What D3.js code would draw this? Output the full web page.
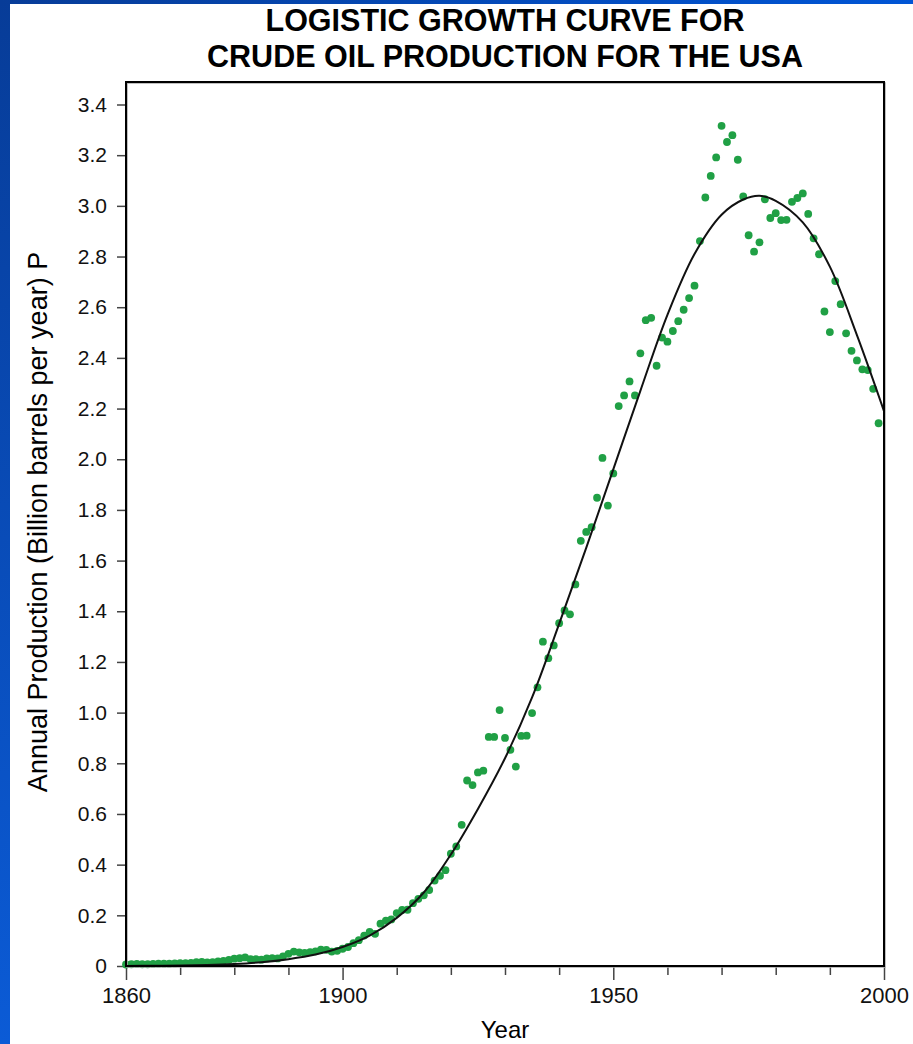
<!DOCTYPE html>
<html>
<head>
<meta charset="utf-8">
<script src="https://cdn.jsdelivr.net/npm/d3@7"></script>
<style>
  html, body { margin: 0; padding: 0; background: #fff; }
  svg { display: block; font-family: "Liberation Sans", Arial, sans-serif; }
</style>
</head>
<body>
<script>
// annual production, billion barrels
var years = d3.range(1860, 2000); // 1860..1999
var production = [
  .006, .007, .008, .007, .007, .008, .009, .009, .009, .010,
  .011, .011, .012, .015, .016, .014, .015, .018, .020, .024,
  .029, .031, .034, .027, .027, .025, .030, .031, .030, .038,
  .048, .057, .054, .052, .055, .058, .065, .064, .057, .060,
  .068, .075, .090, .102, .120, .135, .127, .167, .179, .184,
  .209, .221, .222, .248, .265, .279, .300, .337, .356, .378,
  .443, .472, .557, .732, .714, .764, .771, .904, .904, 1.010,
  .900, .853, .787, .908, .909, .998, 1.10, 1.28, 1.215, 1.265,
  1.353, 1.403, 1.388, 1.506, 1.678, 1.713, 1.732, 1.848, 2.005, 1.817,
  1.944, 2.21, 2.252, 2.307, 2.252, 2.418, 2.549, 2.558, 2.369, 2.48,
  2.464, 2.506, 2.545, 2.59, 2.636, 2.685, 2.861, 3.033, 3.118, 3.191,
  3.316, 3.252, 3.279, 3.182, 3.037, 2.884, 2.819, 2.856, 3.026, 2.952,
  2.971, 2.944, 2.945, 3.016, 3.031, 3.049, 2.968, 2.872, 2.809, 2.583,
  2.502, 2.703, 2.612, 2.497, 2.428, 2.39, 2.355, 2.352, 2.278, 2.142
];

// fitted logistic curve
var curveYears = [1860, 1865, 1870, 1875, 1880, 1885, 1890, 1895, 1900, 1905,
  1910, 1915, 1920, 1925, 1930, 1935, 1940, 1945, 1950, 1955,
  1960, 1965, 1970, 1974, 1977, 1980, 1985, 1990, 1995, 2000];
var curveValues = [0, .001, .002, .004, .008, .015, .027, .045, .075, .12,
  .19, .29, .44, .62, .82, 1.06, 1.35, 1.65, 1.96, 2.27,
  2.57, 2.81, 2.965, 3.025, 3.04, 3.02, 2.935, 2.76, 2.49, 2.19];

var yTicks = d3.range(0, 3.41, 0.2).map(function(d) { return +d.toFixed(1) });
var xTicks = d3.range(1860, 2001, 10);
var xLabels = [1860, 1900, 1950, 2000];

var W = 913, H = 1044;
var svg = d3.select("body").append("svg")
    .attr("width", W)
    .attr("height", H);

// slide background edges
var defs = svg.append("defs");
var gl = defs.append("linearGradient").attr("id", "leftBlue")
    .attr("x1", 0).attr("y1", 0).attr("x2", 0).attr("y2", 1);
gl.append("stop").attr("offset", 0).attr("stop-color", "#073c98");
gl.append("stop").attr("offset", 1).attr("stop-color", "#0b5bd6");
var gt = defs.append("linearGradient").attr("id", "topBlue")
    .attr("x1", 0).attr("y1", 0).attr("x2", 1).attr("y2", 0);
gt.append("stop").attr("offset", 0).attr("stop-color", "#073c98");
gt.append("stop").attr("offset", 1).attr("stop-color", "#0055d5");

svg.append("rect").attr("x", 0).attr("y", 0).attr("width", W).attr("height", H).attr("fill", "#fff");
svg.append("rect").attr("x", 0).attr("y", 0).attr("width", 10).attr("height", H).attr("fill", "url(#leftBlue)");
svg.append("rect").attr("x", 0).attr("y", 0).attr("width", W).attr("height", 4).attr("fill", "url(#topBlue)");

// plot box (window.top is reserved, so no "top" here)
var box = {left: 126, right: 884, top: 82, bottom: 966};

var x = d3.scaleLinear().domain([1860, 2000]).range([box.left, box.right]);
var y = d3.scaleLinear().domain([0, 3.4]).range([box.bottom, 104.5]);

// title
svg.append("text")
    .attr("x", 505).attr("y", 31)
    .attr("text-anchor", "middle")
    .style("font-size", "30.5px").style("font-weight", "bold")
    .text("LOGISTIC GROWTH CURVE FOR");
svg.append("text")
    .attr("x", 505).attr("y", 67)
    .attr("text-anchor", "middle")
    .style("font-size", "30.5px").style("font-weight", "bold")
    .text("CRUDE OIL PRODUCTION FOR THE USA");

// axes
var yAxis = d3.axisLeft(y)
    .tickValues(yTicks)
    .tickSize(9)
    .tickPadding(10)
    .tickFormat(function(d) { return d === 0 ? "0" : d.toFixed(1) });

var gy = svg.append("g")
    .attr("transform", "translate(" + box.left + ",0)")
    .call(yAxis);
gy.select(".domain").remove();
gy.selectAll("line").attr("stroke", "#444").attr("stroke-width", 1.5);
gy.selectAll("text").attr("fill", "#111").style("font-size", "21px")
    .style("font-family", "'Liberation Sans', Arial, sans-serif");

var xAxis = d3.axisBottom(x)
    .tickValues(xTicks)
    .tickSize(9)
    .tickPadding(12)
    .tickFormat(function(d) { return xLabels.indexOf(d) >= 0 ? d : "" });

var gx = svg.append("g")
    .attr("transform", "translate(0," + box.bottom + ")")
    .call(xAxis);
gx.select(".domain").remove();
gx.selectAll("line").attr("stroke", "#444").attr("stroke-width", 1.5)
    .attr("y2", function(d) { return xLabels.indexOf(d) >= 0 ? 14 : 9 });
gx.selectAll("text").attr("fill", "#111").style("font-size", "22px")
    .style("font-family", "'Liberation Sans', Arial, sans-serif");

// axis titles
svg.append("text")
    .attr("x", 505).attr("y", 1038)
    .attr("text-anchor", "middle")
    .style("font-size", "24px")
    .text("Year");
svg.append("text")
    .attr("transform", "translate(47,522) rotate(-90)")
    .attr("text-anchor", "middle")
    .style("font-size", "27px")
    .text("Annual Production (Billion barrels per year) P");

// points
svg.append("g").selectAll("circle")
    .data(years)
    .enter().append("circle")
    .attr("cx", function(d) { return x(d) })
    .attr("cy", function(d, i) { return y(production[i]) })
    .attr("r", 3.9)
    .attr("fill", "#20a045");

// fitted curve
var line = d3.line()
    .x(function(d) { return x(d) })
    .y(function(d, i) { return y(curveValues[i]) })
    .curve(d3.curveCatmullRom.alpha(0.5));

svg.append("path")
    .datum(curveYears)
    .attr("d", line)
    .attr("fill", "none")
    .attr("stroke", "#111")
    .attr("stroke-width", 2);

// frame
svg.append("rect")
    .attr("x", box.left + 1).attr("y", box.top + 1)
    .attr("width", box.right - box.left).attr("height", box.bottom - box.top)
    .attr("fill", "none").attr("stroke", "#aaa").attr("stroke-width", 1.5);
svg.append("rect")
    .attr("x", box.left).attr("y", box.top)
    .attr("width", box.right - box.left).attr("height", box.bottom - box.top)
    .attr("fill", "none").attr("stroke", "#000").attr("stroke-width", 2);
</script>
</body>
</html>
